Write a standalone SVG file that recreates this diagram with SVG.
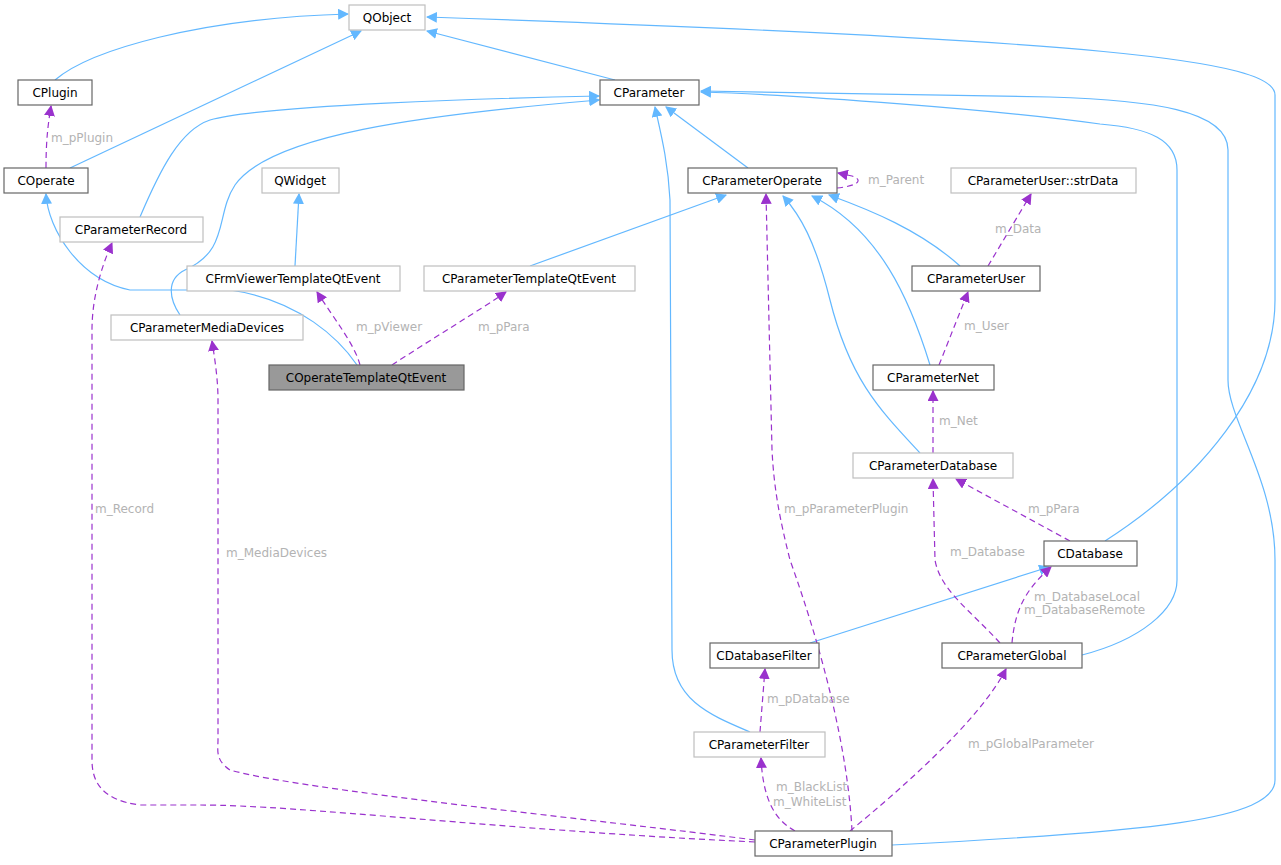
<svg xmlns="http://www.w3.org/2000/svg" width="1281" height="865" viewBox="0 0 1281 865">
<style>
text{font-family:"DejaVu Sans",sans-serif;font-size:12px;fill:#000}
.n{fill:#fff;stroke:#666;stroke-width:1.2}
.l{fill:#fff;stroke:#bfbfbf;stroke-width:1.2}
.g{fill:#999;stroke:#666;stroke-width:1.2}
.b{fill:none;stroke:#63b8ff;stroke-width:1.2;marker-end:url(#ab)}
.p{fill:none;stroke:#9a32cd;stroke-width:1.2;stroke-dasharray:6,4;marker-end:url(#ap)}
.lb{fill:#b3b3b3;font-size:12px}
</style>
<defs>
<marker id="ab" viewBox="0 0 10 10" refX="9" refY="5" markerWidth="11" markerHeight="11" markerUnits="userSpaceOnUse" orient="auto"><path d="M0,0L10,5L0,10z" fill="#63b8ff"/></marker>
<marker id="ap" viewBox="0 0 10 10" refX="9" refY="5" markerWidth="11" markerHeight="11" markerUnits="userSpaceOnUse" orient="auto"><path d="M0,0L10,5L0,10z" fill="#9a32cd"/></marker>
</defs>
<rect width="1281" height="865" fill="#fff"/>
<g id="edges">
<path class="b" d="M55,80 C90,50 200,18 348,14"/>
<path class="b" d="M70,168 L361,31"/>
<path class="b" d="M615,80 L427,31"/>
<path class="b" d="M1105,541 C1200,480 1275,390 1275,300 L1275,95 C1275,60 1100,40 427,17"/>
<path class="b" d="M748,168 L666,107"/>
<path class="b" d="M140,217 C160,170 180,130 210,120 C260,105 500,98 599,96"/>
<path class="b" d="M180,315 C170,300 165,280 185,270 C230,250 215,215 235,185 C270,135 420,115 599,100"/>
<path class="b" d="M750,732 C710,715 672,700 672,650 L670,200 C668,160 660,130 655,107"/>
<path class="b" d="M1082,655 C1140,640 1177,610 1177,580 L1177,170 C1177,140 1150,128 1100,124 C1000,110 800,95 701,92"/>
<path class="b" d="M892,845 C1150,832 1275,820 1275,780 L1275,560 C1275,480 1228,420 1228,380 L1228,150 C1228,110 1150,100 1050,97 L701,91"/>
<path class="b" d="M960,266 C920,230 870,210 829,195"/>
<path class="b" d="M930,365 C910,300 880,230 812,196"/>
<path class="b" d="M920,453 C880,410 850,380 830,300 C815,240 800,215 783,196"/>
<path class="b" d="M530,266 L726,195"/>
<path class="b" d="M295,266 L299,194"/>
<path class="b" d="M357,365 C340,340 300,300 230,290 L130,290 C80,280 48,230 46,194"/>
<path class="b" d="M810,643 L1049,567"/>
<path class="p" d="M837,188 C858,186 864,180 852,176 L838,173"/>
<path class="p" d="M46,168 C46,140 48,125 51,106"/>
<path class="p" d="M360,365 C355,345 335,320 317,292"/>
<path class="p" d="M392,365 C430,340 480,310 506,292"/>
<path class="p" d="M988,266 L1031,194"/>
<path class="p" d="M939,365 L968,292"/>
<path class="p" d="M933,453 L933,391"/>
<path class="p" d="M1070,541 L956,479"/>
<path class="p" d="M1000,643 C970,610 940,590 935,560 L933,479"/>
<path class="p" d="M1012,643 C1015,610 1025,590 1051,567"/>
<path class="p" d="M760,732 L765,669"/>
<path class="p" d="M795,831 C775,820 763,800 761,758"/>
<path class="p" d="M850,831 C900,790 980,720 1006,669"/>
<path class="p" d="M852,831 C850,790 840,700 790,560 C780,520 774,490 772,450 L766,194"/>
<path class="p" d="M755,842 C500,830 300,805 200,805 L140,805 C100,800 92,780 92,760 L92,330 C92,300 100,270 112,243"/>
<path class="p" d="M755,840 C600,820 300,790 230,770 C215,760 218,750 218,740 L218,400 C218,380 215,360 212,341"/>
<text class="lb" x="51" y="142">m_pPlugin</text>
<text class="lb" x="868" y="184">m_Parent</text>
<text class="lb" x="356" y="331">m_pViewer</text>
<text class="lb" x="478" y="331">m_pPara</text>
<text class="lb" x="995" y="233">m_Data</text>
<text class="lb" x="964" y="330">m_User</text>
<text class="lb" x="939" y="425">m_Net</text>
<text class="lb" x="1028" y="513">m_pPara</text>
<text class="lb" x="784" y="513">m_pParameterPlugin</text>
<text class="lb" x="95" y="513">m_Record</text>
<text class="lb" x="226" y="557">m_MediaDevices</text>
<text class="lb" x="950" y="556">m_Database</text>
<text class="lb" x="1034" y="601">m_DatabaseLocal</text>
<text class="lb" x="1024" y="614">m_DatabaseRemote</text>
<text class="lb" x="767" y="703">m_pDatabase</text>
<text class="lb" x="968" y="748">m_pGlobalParameter</text>
<text class="lb" x="776" y="791">m_BlackList</text>
<text class="lb" x="773" y="806">m_WhiteList</text>
</g>
<g id="QObject"><rect class="l" x="349" y="5" width="76" height="25"/><text x="387" y="22" text-anchor="middle">QObject</text></g>
<g id="CPlugin"><rect class="n" x="18" y="80" width="74" height="25"/><text x="55" y="97" text-anchor="middle">CPlugin</text></g>
<g id="COperate"><rect class="n" x="4" y="168" width="84" height="25"/><text x="46" y="185" text-anchor="middle">COperate</text></g>
<g id="CParameter"><rect class="n" x="600" y="80" width="99" height="25"/><text x="649" y="97" text-anchor="middle">CParameter</text></g>
<g id="CParameterOperate"><rect class="n" x="688" y="168" width="149" height="25"/><text x="762" y="185" text-anchor="middle">CParameterOperate</text></g>
<g id="QWidget"><rect class="l" x="262" y="168" width="77" height="25"/><text x="300" y="185" text-anchor="middle">QWidget</text></g>
<g id="CParameterUserStrData"><rect class="l" x="951" y="168" width="185" height="25"/><text x="1043" y="185" text-anchor="middle">CParameterUser::strData</text></g>
<g id="CParameterRecord"><rect class="l" x="60" y="217" width="143" height="25"/><text x="131" y="234" text-anchor="middle">CParameterRecord</text></g>
<g id="CFrmViewerTemplateQtEvent"><rect class="l" x="187" y="266" width="213" height="25"/><text x="293" y="283" text-anchor="middle">CFrmViewerTemplateQtEvent</text></g>
<g id="CParameterTemplateQtEvent"><rect class="l" x="424" y="266" width="211" height="25"/><text x="529" y="283" text-anchor="middle">CParameterTemplateQtEvent</text></g>
<g id="CParameterUser"><rect class="n" x="912" y="266" width="128" height="25"/><text x="976" y="283" text-anchor="middle">CParameterUser</text></g>
<g id="CParameterMediaDevices"><rect class="l" x="111" y="315" width="192" height="25"/><text x="207" y="332" text-anchor="middle">CParameterMediaDevices</text></g>
<g id="COperateTemplateQtEvent"><rect class="g" x="269" y="365" width="195" height="25"/><text x="366" y="382" text-anchor="middle">COperateTemplateQtEvent</text></g>
<g id="CParameterNet"><rect class="n" x="873" y="365" width="121" height="25"/><text x="933" y="382" text-anchor="middle">CParameterNet</text></g>
<g id="CParameterDatabase"><rect class="l" x="853" y="453" width="160" height="25"/><text x="933" y="470" text-anchor="middle">CParameterDatabase</text></g>
<g id="CDatabase"><rect class="n" x="1044" y="541" width="93" height="25"/><text x="1090" y="558" text-anchor="middle">CDatabase</text></g>
<g id="CDatabaseFilter"><rect class="n" x="710" y="643" width="109" height="25"/><text x="764" y="660" text-anchor="middle">CDatabaseFilter</text></g>
<g id="CParameterGlobal"><rect class="n" x="942" y="643" width="140" height="25"/><text x="1012" y="660" text-anchor="middle">CParameterGlobal</text></g>
<g id="CParameterFilter"><rect class="l" x="694" y="732" width="131" height="25"/><text x="759" y="749" text-anchor="middle">CParameterFilter</text></g>
<g id="CParameterPlugin"><rect class="n" x="755" y="831" width="137" height="25"/><text x="823" y="848" text-anchor="middle">CParameterPlugin</text></g>
</svg>
